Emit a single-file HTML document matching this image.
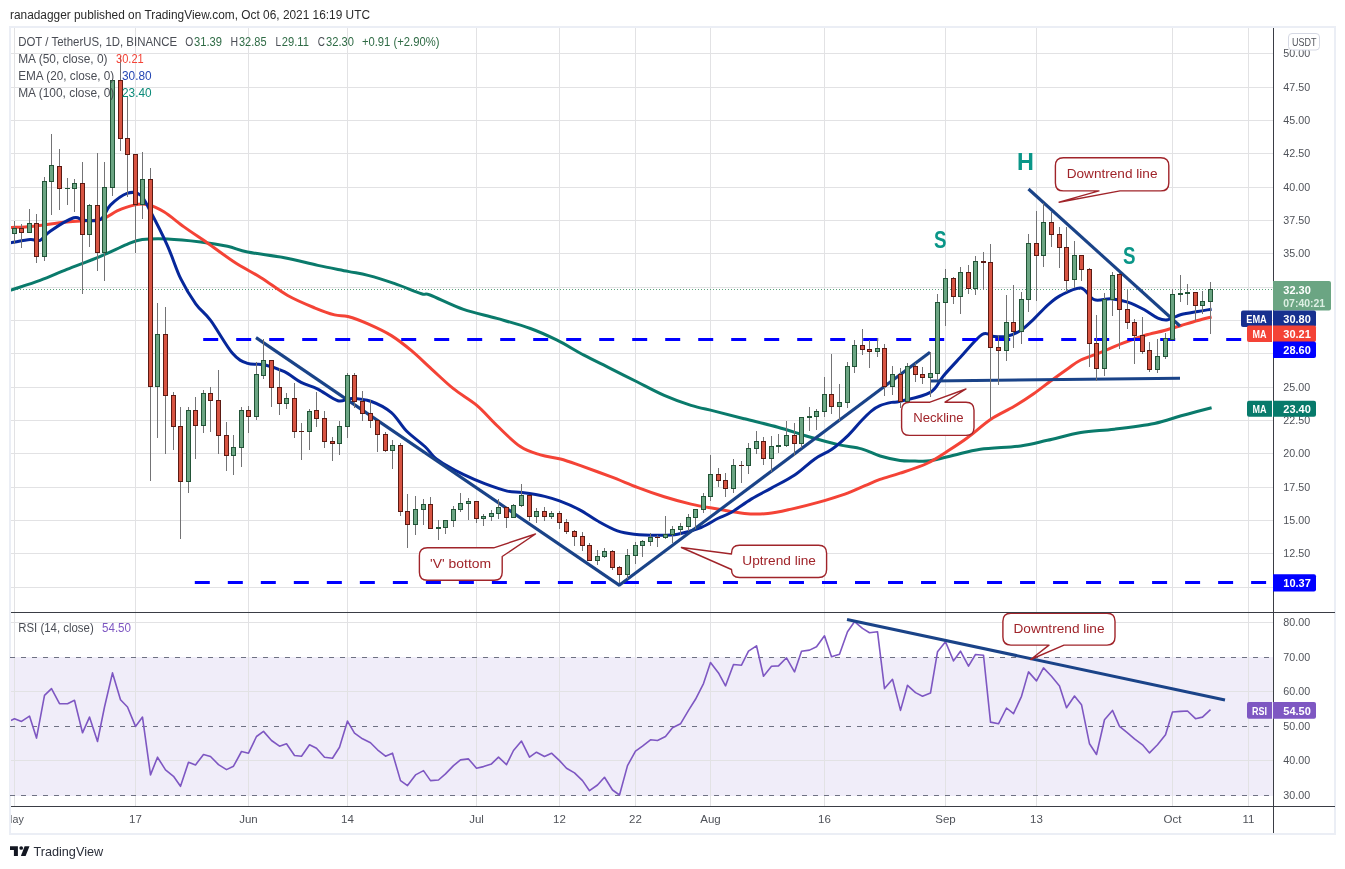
<!DOCTYPE html>
<html lang="en"><head><meta charset="utf-8"><title>DOT / TetherUS chart</title>
<style>html,body{margin:0;padding:0;background:#fff}svg{display:block}</style></head>
<body>
<svg width="1345" height="869" viewBox="0 0 1345 869" font-family='"Liberation Sans", Arial, sans-serif'>
<rect x="0" y="0" width="1345" height="869" fill="#ffffff"/>
<text x="10" y="19" font-size="12" fill="#2a2a2a" textLength="360" lengthAdjust="spacingAndGlyphs">ranadagger published on TradingView.com, Oct 06, 2021 16:19 UTC</text>
<rect x="10" y="27" width="1325" height="807" fill="#ffffff" stroke="#ebeef5" stroke-width="2"/>
<g shape-rendering="crispEdges">
<rect x="10" y="657" width="1263" height="138.5" fill="#f0edf9"/>
<rect x="14" y="28" width="1" height="778" fill="#e2e2e4"/>
<rect x="135" y="28" width="1" height="778" fill="#e2e2e4"/>
<rect x="248" y="28" width="1" height="778" fill="#e2e2e4"/>
<rect x="347" y="28" width="1" height="778" fill="#e2e2e4"/>
<rect x="476" y="28" width="1" height="778" fill="#e2e2e4"/>
<rect x="559" y="28" width="1" height="778" fill="#e2e2e4"/>
<rect x="635" y="28" width="1" height="778" fill="#e2e2e4"/>
<rect x="710" y="28" width="1" height="778" fill="#e2e2e4"/>
<rect x="824" y="28" width="1" height="778" fill="#e2e2e4"/>
<rect x="945" y="28" width="1" height="778" fill="#e2e2e4"/>
<rect x="1036" y="28" width="1" height="778" fill="#e2e2e4"/>
<rect x="1172" y="28" width="1" height="778" fill="#e2e2e4"/>
<rect x="1248" y="28" width="1" height="778" fill="#e2e2e4"/>
<rect x="11" y="53" width="1262" height="1" fill="#e2e2e4"/>
<rect x="11" y="87" width="1262" height="1" fill="#e2e2e4"/>
<rect x="11" y="120" width="1262" height="1" fill="#e2e2e4"/>
<rect x="11" y="153" width="1262" height="1" fill="#e2e2e4"/>
<rect x="11" y="187" width="1262" height="1" fill="#e2e2e4"/>
<rect x="11" y="220" width="1262" height="1" fill="#e2e2e4"/>
<rect x="11" y="253" width="1262" height="1" fill="#e2e2e4"/>
<rect x="11" y="287" width="1262" height="1" fill="#e2e2e4"/>
<rect x="11" y="320" width="1262" height="1" fill="#e2e2e4"/>
<rect x="11" y="353" width="1262" height="1" fill="#e2e2e4"/>
<rect x="11" y="387" width="1262" height="1" fill="#e2e2e4"/>
<rect x="11" y="420" width="1262" height="1" fill="#e2e2e4"/>
<rect x="11" y="453" width="1262" height="1" fill="#e2e2e4"/>
<rect x="11" y="487" width="1262" height="1" fill="#e2e2e4"/>
<rect x="11" y="520" width="1262" height="1" fill="#e2e2e4"/>
<rect x="11" y="553" width="1262" height="1" fill="#e2e2e4"/>
<rect x="11" y="587" width="1262" height="1" fill="#e2e2e4"/>
<rect x="11" y="622" width="1262" height="1" fill="#e2e2e4"/>
<rect x="11" y="691" width="1262" height="1" fill="#e2e2e4"/>
<rect x="11" y="760" width="1262" height="1" fill="#e2e2e4"/>
</g>
<line x1="10" y1="657.5" x2="1273" y2="657.5" stroke="#6e7183" stroke-width="1" stroke-dasharray="5 6" shape-rendering="crispEdges"/>
<line x1="10" y1="726.5" x2="1273" y2="726.5" stroke="#6e7183" stroke-width="1" stroke-dasharray="5 6" shape-rendering="crispEdges"/>
<line x1="10" y1="795.5" x2="1273" y2="795.5" stroke="#6e7183" stroke-width="1" stroke-dasharray="5 6" shape-rendering="crispEdges"/>
<line x1="11" y1="289.5" x2="1273" y2="289.5" stroke="#5da27c" stroke-width="1" stroke-dasharray="1 2" shape-rendering="crispEdges"/>
<clipPath id="cp"><rect x="11" y="28" width="1262" height="584"/></clipPath>
<g clip-path="url(#cp)">
<path d="M10.0,290.3 C10.3,290.2 6.7,291.5 11.7,289.8 C16.7,288.1 30.9,283.8 40.1,280.4 C49.3,277.0 56.9,273.4 66.9,269.4 C77.0,265.4 90.4,260.5 100.4,256.3 C110.4,252.1 120.1,247.1 127.1,244.3 C134.1,241.5 135.5,240.5 142.2,239.6 C148.9,238.7 157.6,238.5 167.3,238.9 C177.1,239.3 190.7,240.7 200.7,241.9 C210.7,243.1 219.7,244.6 227.5,246.3 C235.3,248.0 238.1,250.1 247.6,252.0 C257.1,253.9 272.7,255.5 284.4,257.7 C296.1,259.9 307.2,263.1 317.8,265.4 C328.4,267.7 339.5,269.7 347.9,271.4 C356.3,273.1 360.2,273.3 368.0,275.4 C375.8,277.4 385.9,280.6 394.8,283.7 C403.7,286.8 415.6,291.9 421.5,293.8 C427.4,295.7 423.0,292.4 430.0,295.0 C437.0,297.6 452.4,305.5 463.5,309.4 C474.6,313.3 485.8,315.2 496.9,318.4 C508.0,321.6 520.4,324.9 530.4,328.5 C540.4,332.1 548.2,335.8 557.1,340.2 C566.0,344.6 575.0,350.5 583.9,355.2 C592.8,359.9 601.8,364.1 610.7,368.6 C619.6,373.1 628.5,377.5 637.4,382.0 C646.3,386.5 655.3,391.5 664.2,395.4 C673.1,399.3 682.6,402.8 691.0,405.4 C699.4,408.0 705.5,408.9 714.4,411.1 C723.3,413.3 733.9,416.1 744.5,418.8 C755.1,421.5 767.3,424.2 777.9,427.2 C788.5,430.1 798.0,433.6 808.0,436.5 C818.0,439.4 829.3,442.5 838.2,444.6 C847.1,446.7 854.6,447.0 861.6,448.9 C868.6,450.8 873.7,454.1 880.1,456.0 C886.5,457.9 894.3,459.7 900.1,460.5 C905.9,461.3 910.0,460.9 915.0,461.0 C920.0,461.1 923.5,461.8 930.0,460.8 C936.5,459.9 945.3,457.2 953.7,455.3 C962.1,453.4 969.2,450.9 980.4,449.3 C991.5,447.7 1009.4,447.4 1020.6,445.9 C1031.8,444.4 1037.4,442.5 1047.4,440.3 C1057.4,438.1 1069.7,434.5 1080.8,432.6 C1091.9,430.8 1102.0,430.7 1114.3,429.2 C1126.6,427.7 1143.2,425.7 1154.4,423.5 C1165.6,421.3 1171.7,418.4 1181.2,415.8 C1190.7,413.2 1206.5,409.1 1211.6,407.8" fill="none" stroke="#0a7a6b" stroke-width="3" stroke-linejoin="round" stroke-linecap="butt" />
<path d="M10.0,227.6 C10.3,227.6 7.8,227.7 11.7,227.5 C15.6,227.3 24.3,227.1 33.5,226.2 C42.7,225.3 55.8,223.0 66.9,221.9 C78.1,220.8 92.0,221.3 100.4,219.5 C108.8,217.7 111.5,213.2 117.1,210.8 C122.7,208.4 128.8,206.2 133.8,205.1 C138.8,204.0 142.2,203.4 147.2,204.5 C152.2,205.6 157.8,208.1 163.9,211.8 C170.0,215.5 176.8,221.7 184.0,226.9 C191.2,232.1 199.0,237.1 207.4,242.9 C215.8,248.8 225.3,256.2 234.2,262.0 C243.1,267.8 252.1,272.1 261.0,277.7 C269.9,283.3 278.8,290.5 287.7,295.5 C296.6,300.5 306.7,304.6 314.5,307.8 C322.3,311.0 329.0,313.4 334.6,314.9 C340.2,316.3 342.3,315.0 347.9,316.5 C353.5,318.0 360.8,320.7 368.0,323.9 C375.2,327.1 384.1,331.1 391.4,335.6 C398.6,340.1 404.8,345.1 411.5,350.7 C418.2,356.3 424.6,362.8 431.6,369.1 C438.6,375.4 445.9,382.6 453.4,388.7 C460.9,394.8 469.6,399.3 476.8,405.4 C484.1,411.5 489.6,418.6 496.9,425.5 C504.1,432.4 513.0,441.7 520.3,446.6 C527.5,451.5 533.7,452.8 540.4,454.9 C547.1,457.0 553.8,457.2 560.5,459.0 C567.2,460.8 572.2,462.7 580.6,465.6 C589.0,468.6 601.2,473.1 610.7,476.7 C620.2,480.3 628.5,484.0 637.4,487.4 C646.3,490.8 655.3,494.0 664.2,496.8 C673.1,499.6 682.1,502.1 691.0,504.1 C699.9,506.2 708.8,507.5 717.7,509.1 C726.6,510.7 736.1,512.8 744.5,513.5 C752.9,514.2 760.1,514.2 767.9,513.5 C775.7,512.8 782.9,511.0 791.3,509.1 C799.7,507.2 809.2,504.9 818.1,502.4 C827.0,499.9 837.1,496.9 844.9,494.1 C852.7,491.3 859.0,488.1 864.9,485.7 C870.8,483.2 874.1,481.5 880.0,479.4 C885.9,477.3 892.3,475.8 900.1,473.2 C907.9,470.6 919.1,467.1 926.9,463.5 C934.7,459.9 940.3,455.8 947.0,451.5 C953.7,447.2 959.9,443.3 967.1,438.0 C974.4,432.7 982.7,424.8 990.5,419.5 C998.3,414.2 1006.6,410.8 1013.9,406.5 C1021.1,402.2 1027.9,397.8 1034.0,393.5 C1040.1,389.2 1045.1,385.1 1050.7,381.0 C1056.3,376.9 1062.4,372.5 1067.4,369.0 C1072.4,365.5 1075.2,362.8 1080.8,360.0 C1086.4,357.2 1094.2,355.0 1100.9,352.3 C1107.6,349.6 1113.7,346.7 1120.9,343.9 C1128.2,341.1 1137.2,337.7 1144.4,335.5 C1151.7,333.3 1158.3,332.2 1164.4,330.5 C1170.5,328.8 1175.6,327.2 1181.2,325.5 C1186.8,323.8 1192.8,321.9 1197.9,320.5 C1203.0,319.1 1209.3,317.6 1211.6,317.0" fill="none" stroke="#f44336" stroke-width="3" stroke-linejoin="round" stroke-linecap="butt" />
<path d="M10.0,242.8 C10.3,242.8 8.3,243.1 11.7,242.6 C15.0,242.1 25.4,240.0 30.1,239.6 C34.8,239.2 36.8,241.7 40.1,240.3 C43.5,238.9 44.6,234.9 50.2,231.2 C55.8,227.4 68.0,219.6 73.6,217.8 C79.2,216.0 79.1,219.9 83.6,220.2 C88.1,220.5 95.9,222.0 100.4,219.5 C104.9,217.0 106.0,209.4 110.4,205.1 C114.9,200.8 122.1,195.1 127.1,193.4 C132.1,191.7 136.6,192.0 140.5,195.1 C144.4,198.2 146.1,203.4 150.6,211.8 C155.1,220.2 162.3,234.2 167.3,245.3 C172.3,256.4 176.0,268.9 180.7,278.7 C185.4,288.4 190.7,296.8 195.7,303.8 C200.7,310.8 204.7,312.4 210.8,320.6 C216.9,328.9 226.4,346.2 232.5,353.3 C238.6,360.4 242.3,361.5 247.6,363.4 C252.9,365.3 258.2,363.3 264.3,364.7 C270.4,366.1 278.3,368.8 284.4,371.7 C290.5,374.6 295.5,379.5 301.1,382.4 C306.7,385.3 311.7,386.0 317.8,389.1 C323.9,392.2 332.3,399.2 337.9,400.8 C343.5,402.4 345.7,398.4 351.3,398.5 C356.9,398.6 364.7,399.1 371.4,401.5 C378.1,403.9 385.5,407.7 391.4,412.6 C397.2,417.5 400.9,425.4 406.5,431.0 C412.1,436.6 420.3,442.2 424.9,446.5 C429.5,450.8 430.7,453.9 434.2,457.0 C437.7,460.1 440.9,462.1 445.8,465.0 C450.7,467.9 457.3,471.6 463.8,474.7 C470.3,477.8 477.5,481.0 484.7,483.7 C491.9,486.4 501.0,489.6 507.2,491.1 C513.4,492.6 515.9,491.7 522.1,492.6 C528.3,493.5 538.4,495.0 544.6,496.4 C550.8,497.8 553.6,498.7 559.5,500.9 C565.4,503.1 573.4,506.5 579.7,509.8 C586.0,513.1 591.0,517.3 597.3,520.8 C603.6,524.3 611.3,528.7 617.4,530.9 C623.5,533.1 627.4,533.5 634.1,534.2 C640.8,534.9 650.2,535.2 657.5,535.2 C664.8,535.2 670.4,535.5 677.6,534.2 C684.9,532.9 694.3,530.1 701.0,527.5 C707.7,524.9 712.7,521.0 717.7,518.5 C722.7,516.0 725.5,515.7 731.1,512.5 C736.7,509.3 744.5,503.2 751.2,499.1 C757.9,495.0 764.0,492.1 771.3,488.1 C778.5,484.1 787.5,479.9 794.7,475.0 C802.0,470.1 808.7,463.1 814.8,458.9 C820.9,454.6 825.9,453.4 831.5,449.5 C837.1,445.6 843.2,440.1 848.2,435.3 C853.2,430.5 857.7,424.6 861.6,420.5 C865.5,416.4 868.5,413.3 871.6,410.8 C874.7,408.3 876.7,407.0 880.0,405.6 C883.3,404.2 888.1,403.1 891.5,402.4 C894.9,401.7 893.6,403.1 900.1,401.4 C906.6,399.7 923.0,396.7 930.3,392.4 C937.5,388.1 938.6,381.5 943.6,375.7 C948.6,369.9 954.0,364.2 960.4,357.3 C966.8,350.4 976.5,338.0 982.1,334.5 C987.7,331.0 989.6,336.2 993.8,336.5 C998.0,336.8 1002.7,337.2 1007.2,336.2 C1011.7,335.2 1016.1,333.4 1020.6,330.5 C1025.1,327.6 1029.5,323.0 1034.0,318.8 C1038.5,314.6 1043.0,309.3 1047.4,305.4 C1051.9,301.5 1055.1,298.3 1060.7,295.4 C1066.3,292.5 1075.2,287.3 1080.8,288.0 C1086.4,288.7 1089.2,297.9 1094.2,299.7 C1099.2,301.5 1105.3,298.3 1110.9,298.7 C1116.5,299.1 1122.1,300.2 1127.7,302.1 C1133.3,304.0 1139.4,307.1 1144.4,309.8 C1149.4,312.5 1153.9,316.4 1157.8,318.1 C1161.7,319.8 1163.9,320.4 1167.8,319.8 C1171.7,319.2 1176.2,315.9 1181.2,314.5 C1186.2,313.1 1192.8,312.3 1197.9,311.4 C1203.0,310.5 1209.3,309.6 1211.6,309.2" fill="none" stroke="#06279a" stroke-width="3" stroke-linejoin="round" stroke-linecap="butt" />
<line x1="203.2" y1="339.5" x2="1241.2" y2="339.5" stroke="#0000ff" stroke-width="3" stroke-dasharray="15 18"/>
<line x1="194.8" y1="582.5" x2="1273" y2="582.5" stroke="#0000ff" stroke-width="3" stroke-dasharray="15 18.01"/>
<line x1="256" y1="337.6" x2="619.9" y2="585.6" stroke="#1a4388" stroke-width="3.1"/>
<line x1="618.9" y1="585.6" x2="930" y2="352.2" stroke="#1a4388" stroke-width="3.1"/>
<line x1="931" y1="381.1" x2="1180" y2="378.2" stroke="#1a4388" stroke-width="3"/>
<line x1="1028.5" y1="189" x2="1180" y2="326" stroke="#1a4388" stroke-width="3.1"/>
</g>
<g shape-rendering="crispEdges">
<rect x="14" y="221" width="1" height="23" fill="#737375"/>
<rect x="12" y="228" width="5" height="6" fill="#225437"/>
<rect x="13" y="229" width="3" height="4" fill="#6ba583"/>
<rect x="21" y="224" width="1" height="24" fill="#737375"/>
<rect x="19" y="228" width="5" height="5" fill="#5b1a13"/>
<rect x="20" y="229" width="3" height="3" fill="#d75442"/>
<rect x="29" y="209" width="1" height="24" fill="#737375"/>
<rect x="27" y="223" width="5" height="10" fill="#225437"/>
<rect x="28" y="224" width="3" height="8" fill="#6ba583"/>
<rect x="36" y="214" width="1" height="49" fill="#737375"/>
<rect x="34" y="223" width="5" height="34" fill="#5b1a13"/>
<rect x="35" y="224" width="3" height="32" fill="#d75442"/>
<rect x="44" y="177" width="1" height="84" fill="#737375"/>
<rect x="42" y="181" width="5" height="76" fill="#225437"/>
<rect x="43" y="182" width="3" height="74" fill="#6ba583"/>
<rect x="51" y="134" width="1" height="81" fill="#737375"/>
<rect x="49" y="165" width="5" height="17" fill="#225437"/>
<rect x="50" y="166" width="3" height="15" fill="#6ba583"/>
<rect x="59" y="149" width="1" height="61" fill="#737375"/>
<rect x="57" y="166" width="5" height="23" fill="#5b1a13"/>
<rect x="58" y="167" width="3" height="21" fill="#d75442"/>
<rect x="67" y="178" width="1" height="27" fill="#737375"/>
<rect x="65" y="188" width="5" height="1" fill="#225437"/>
<rect x="74" y="179" width="1" height="33" fill="#737375"/>
<rect x="72" y="183" width="5" height="6" fill="#225437"/>
<rect x="73" y="184" width="3" height="4" fill="#6ba583"/>
<rect x="82" y="162" width="1" height="132" fill="#737375"/>
<rect x="80" y="183" width="5" height="52" fill="#5b1a13"/>
<rect x="81" y="184" width="3" height="50" fill="#d75442"/>
<rect x="89" y="204" width="1" height="43" fill="#737375"/>
<rect x="87" y="205" width="5" height="30" fill="#225437"/>
<rect x="88" y="206" width="3" height="28" fill="#6ba583"/>
<rect x="97" y="153" width="1" height="118" fill="#737375"/>
<rect x="95" y="205" width="5" height="48" fill="#5b1a13"/>
<rect x="96" y="206" width="3" height="46" fill="#d75442"/>
<rect x="104" y="162" width="1" height="119" fill="#737375"/>
<rect x="102" y="187" width="5" height="66" fill="#225437"/>
<rect x="103" y="188" width="3" height="64" fill="#6ba583"/>
<rect x="112" y="80" width="1" height="116" fill="#737375"/>
<rect x="110" y="80" width="5" height="108" fill="#225437"/>
<rect x="111" y="81" width="3" height="106" fill="#6ba583"/>
<rect x="120" y="56" width="1" height="95" fill="#737375"/>
<rect x="118" y="80" width="5" height="59" fill="#5b1a13"/>
<rect x="119" y="81" width="3" height="57" fill="#d75442"/>
<rect x="127" y="96" width="1" height="101" fill="#737375"/>
<rect x="125" y="138" width="5" height="17" fill="#5b1a13"/>
<rect x="126" y="139" width="3" height="15" fill="#d75442"/>
<rect x="135" y="154" width="1" height="99" fill="#737375"/>
<rect x="133" y="154" width="5" height="51" fill="#5b1a13"/>
<rect x="134" y="155" width="3" height="49" fill="#d75442"/>
<rect x="142" y="152" width="1" height="67" fill="#737375"/>
<rect x="140" y="179" width="5" height="26" fill="#225437"/>
<rect x="141" y="180" width="3" height="24" fill="#6ba583"/>
<rect x="150" y="168" width="1" height="313" fill="#737375"/>
<rect x="148" y="179" width="5" height="208" fill="#5b1a13"/>
<rect x="149" y="180" width="3" height="206" fill="#d75442"/>
<rect x="157" y="303" width="1" height="135" fill="#737375"/>
<rect x="155" y="334" width="5" height="53" fill="#225437"/>
<rect x="156" y="335" width="3" height="51" fill="#6ba583"/>
<rect x="165" y="307" width="1" height="147" fill="#737375"/>
<rect x="163" y="334" width="5" height="62" fill="#5b1a13"/>
<rect x="164" y="335" width="3" height="60" fill="#d75442"/>
<rect x="173" y="392" width="1" height="58" fill="#737375"/>
<rect x="171" y="395" width="5" height="32" fill="#5b1a13"/>
<rect x="172" y="396" width="3" height="30" fill="#d75442"/>
<rect x="180" y="407" width="1" height="132" fill="#737375"/>
<rect x="178" y="426" width="5" height="56" fill="#5b1a13"/>
<rect x="179" y="427" width="3" height="54" fill="#d75442"/>
<rect x="188" y="407" width="1" height="86" fill="#737375"/>
<rect x="186" y="410" width="5" height="72" fill="#225437"/>
<rect x="187" y="411" width="3" height="70" fill="#6ba583"/>
<rect x="195" y="397" width="1" height="62" fill="#737375"/>
<rect x="193" y="410" width="5" height="16" fill="#5b1a13"/>
<rect x="194" y="411" width="3" height="14" fill="#d75442"/>
<rect x="203" y="390" width="1" height="43" fill="#737375"/>
<rect x="201" y="393" width="5" height="33" fill="#225437"/>
<rect x="202" y="394" width="3" height="31" fill="#6ba583"/>
<rect x="210" y="387" width="1" height="45" fill="#737375"/>
<rect x="208" y="393" width="5" height="8" fill="#5b1a13"/>
<rect x="209" y="394" width="3" height="6" fill="#d75442"/>
<rect x="218" y="370" width="1" height="84" fill="#737375"/>
<rect x="216" y="400" width="5" height="36" fill="#5b1a13"/>
<rect x="217" y="401" width="3" height="34" fill="#d75442"/>
<rect x="226" y="422" width="1" height="49" fill="#737375"/>
<rect x="224" y="435" width="5" height="21" fill="#5b1a13"/>
<rect x="225" y="436" width="3" height="19" fill="#d75442"/>
<rect x="233" y="435" width="1" height="40" fill="#737375"/>
<rect x="231" y="447" width="5" height="9" fill="#225437"/>
<rect x="232" y="448" width="3" height="7" fill="#6ba583"/>
<rect x="241" y="407" width="1" height="60" fill="#737375"/>
<rect x="239" y="410" width="5" height="38" fill="#225437"/>
<rect x="240" y="411" width="3" height="36" fill="#6ba583"/>
<rect x="248" y="406" width="1" height="27" fill="#737375"/>
<rect x="246" y="410" width="5" height="7" fill="#5b1a13"/>
<rect x="247" y="411" width="3" height="5" fill="#d75442"/>
<rect x="256" y="362" width="1" height="58" fill="#737375"/>
<rect x="254" y="374" width="5" height="43" fill="#225437"/>
<rect x="255" y="375" width="3" height="41" fill="#6ba583"/>
<rect x="263" y="339" width="1" height="40" fill="#737375"/>
<rect x="261" y="360" width="5" height="16" fill="#225437"/>
<rect x="262" y="361" width="3" height="14" fill="#6ba583"/>
<rect x="271" y="360" width="1" height="47" fill="#737375"/>
<rect x="269" y="360" width="5" height="28" fill="#5b1a13"/>
<rect x="270" y="361" width="3" height="26" fill="#d75442"/>
<rect x="279" y="368" width="1" height="47" fill="#737375"/>
<rect x="277" y="387" width="5" height="17" fill="#5b1a13"/>
<rect x="278" y="388" width="3" height="15" fill="#d75442"/>
<rect x="286" y="393" width="1" height="16" fill="#737375"/>
<rect x="284" y="398" width="5" height="6" fill="#225437"/>
<rect x="285" y="399" width="3" height="4" fill="#6ba583"/>
<rect x="294" y="383" width="1" height="55" fill="#737375"/>
<rect x="292" y="398" width="5" height="34" fill="#5b1a13"/>
<rect x="293" y="399" width="3" height="32" fill="#d75442"/>
<rect x="301" y="423" width="1" height="37" fill="#737375"/>
<rect x="299" y="431" width="5" height="1" fill="#5b1a13"/>
<rect x="309" y="409" width="1" height="41" fill="#737375"/>
<rect x="307" y="411" width="5" height="21" fill="#225437"/>
<rect x="308" y="412" width="3" height="19" fill="#6ba583"/>
<rect x="316" y="392" width="1" height="35" fill="#737375"/>
<rect x="314" y="410" width="5" height="9" fill="#5b1a13"/>
<rect x="315" y="411" width="3" height="7" fill="#d75442"/>
<rect x="324" y="411" width="1" height="37" fill="#737375"/>
<rect x="322" y="418" width="5" height="24" fill="#5b1a13"/>
<rect x="323" y="419" width="3" height="22" fill="#d75442"/>
<rect x="332" y="437" width="1" height="24" fill="#737375"/>
<rect x="330" y="441" width="5" height="3" fill="#5b1a13"/>
<rect x="331" y="442" width="3" height="1" fill="#d75442"/>
<rect x="339" y="421" width="1" height="34" fill="#737375"/>
<rect x="337" y="426" width="5" height="18" fill="#225437"/>
<rect x="338" y="427" width="3" height="16" fill="#6ba583"/>
<rect x="347" y="373" width="1" height="65" fill="#737375"/>
<rect x="345" y="375" width="5" height="52" fill="#225437"/>
<rect x="346" y="376" width="3" height="50" fill="#6ba583"/>
<rect x="354" y="373" width="1" height="35" fill="#737375"/>
<rect x="352" y="375" width="5" height="27" fill="#5b1a13"/>
<rect x="353" y="376" width="3" height="25" fill="#d75442"/>
<rect x="362" y="391" width="1" height="30" fill="#737375"/>
<rect x="360" y="401" width="5" height="13" fill="#5b1a13"/>
<rect x="361" y="402" width="3" height="11" fill="#d75442"/>
<rect x="370" y="400" width="1" height="28" fill="#737375"/>
<rect x="368" y="413" width="5" height="8" fill="#5b1a13"/>
<rect x="369" y="414" width="3" height="6" fill="#d75442"/>
<rect x="377" y="420" width="1" height="32" fill="#737375"/>
<rect x="375" y="420" width="5" height="15" fill="#5b1a13"/>
<rect x="376" y="421" width="3" height="13" fill="#d75442"/>
<rect x="385" y="432" width="1" height="20" fill="#737375"/>
<rect x="383" y="434" width="5" height="17" fill="#5b1a13"/>
<rect x="384" y="435" width="3" height="15" fill="#d75442"/>
<rect x="392" y="440" width="1" height="29" fill="#737375"/>
<rect x="390" y="445" width="5" height="6" fill="#225437"/>
<rect x="391" y="446" width="3" height="4" fill="#6ba583"/>
<rect x="400" y="443" width="1" height="73" fill="#737375"/>
<rect x="398" y="445" width="5" height="67" fill="#5b1a13"/>
<rect x="399" y="446" width="3" height="65" fill="#d75442"/>
<rect x="407" y="494" width="1" height="54" fill="#737375"/>
<rect x="405" y="511" width="5" height="14" fill="#5b1a13"/>
<rect x="406" y="512" width="3" height="12" fill="#d75442"/>
<rect x="415" y="496" width="1" height="39" fill="#737375"/>
<rect x="413" y="509" width="5" height="16" fill="#225437"/>
<rect x="414" y="510" width="3" height="14" fill="#6ba583"/>
<rect x="423" y="499" width="1" height="26" fill="#737375"/>
<rect x="421" y="504" width="5" height="6" fill="#225437"/>
<rect x="422" y="505" width="3" height="4" fill="#6ba583"/>
<rect x="430" y="497" width="1" height="32" fill="#737375"/>
<rect x="428" y="504" width="5" height="25" fill="#5b1a13"/>
<rect x="429" y="505" width="3" height="23" fill="#d75442"/>
<rect x="438" y="520" width="1" height="20" fill="#737375"/>
<rect x="436" y="527" width="5" height="2" fill="#225437"/>
<rect x="445" y="520" width="1" height="14" fill="#737375"/>
<rect x="443" y="520" width="5" height="8" fill="#225437"/>
<rect x="444" y="521" width="3" height="6" fill="#6ba583"/>
<rect x="453" y="506" width="1" height="21" fill="#737375"/>
<rect x="451" y="509" width="5" height="12" fill="#225437"/>
<rect x="452" y="510" width="3" height="10" fill="#6ba583"/>
<rect x="460" y="493" width="1" height="19" fill="#737375"/>
<rect x="458" y="503" width="5" height="7" fill="#225437"/>
<rect x="459" y="504" width="3" height="5" fill="#6ba583"/>
<rect x="468" y="498" width="1" height="22" fill="#737375"/>
<rect x="466" y="501" width="5" height="3" fill="#225437"/>
<rect x="467" y="502" width="3" height="1" fill="#6ba583"/>
<rect x="476" y="501" width="1" height="22" fill="#737375"/>
<rect x="474" y="501" width="5" height="18" fill="#5b1a13"/>
<rect x="475" y="502" width="3" height="16" fill="#d75442"/>
<rect x="483" y="514" width="1" height="12" fill="#737375"/>
<rect x="481" y="516" width="5" height="3" fill="#225437"/>
<rect x="482" y="517" width="3" height="1" fill="#6ba583"/>
<rect x="491" y="510" width="1" height="11" fill="#737375"/>
<rect x="489" y="513" width="5" height="4" fill="#225437"/>
<rect x="490" y="514" width="3" height="2" fill="#6ba583"/>
<rect x="498" y="499" width="1" height="20" fill="#737375"/>
<rect x="496" y="507" width="5" height="7" fill="#225437"/>
<rect x="497" y="508" width="3" height="5" fill="#6ba583"/>
<rect x="506" y="507" width="1" height="21" fill="#737375"/>
<rect x="504" y="507" width="5" height="11" fill="#5b1a13"/>
<rect x="505" y="508" width="3" height="9" fill="#d75442"/>
<rect x="513" y="504" width="1" height="14" fill="#737375"/>
<rect x="511" y="505" width="5" height="13" fill="#225437"/>
<rect x="512" y="506" width="3" height="11" fill="#6ba583"/>
<rect x="521" y="484" width="1" height="23" fill="#737375"/>
<rect x="519" y="495" width="5" height="11" fill="#225437"/>
<rect x="520" y="496" width="3" height="9" fill="#6ba583"/>
<rect x="529" y="495" width="1" height="26" fill="#737375"/>
<rect x="527" y="495" width="5" height="22" fill="#5b1a13"/>
<rect x="528" y="496" width="3" height="20" fill="#d75442"/>
<rect x="536" y="508" width="1" height="15" fill="#737375"/>
<rect x="534" y="511" width="5" height="6" fill="#225437"/>
<rect x="535" y="512" width="3" height="4" fill="#6ba583"/>
<rect x="544" y="507" width="1" height="14" fill="#737375"/>
<rect x="542" y="511" width="5" height="6" fill="#5b1a13"/>
<rect x="543" y="512" width="3" height="4" fill="#d75442"/>
<rect x="551" y="511" width="1" height="8" fill="#737375"/>
<rect x="549" y="513" width="5" height="4" fill="#225437"/>
<rect x="550" y="514" width="3" height="2" fill="#6ba583"/>
<rect x="559" y="511" width="1" height="18" fill="#737375"/>
<rect x="557" y="513" width="5" height="10" fill="#5b1a13"/>
<rect x="558" y="514" width="3" height="8" fill="#d75442"/>
<rect x="566" y="519" width="1" height="15" fill="#737375"/>
<rect x="564" y="522" width="5" height="10" fill="#5b1a13"/>
<rect x="565" y="523" width="3" height="8" fill="#d75442"/>
<rect x="574" y="530" width="1" height="16" fill="#737375"/>
<rect x="572" y="531" width="5" height="6" fill="#5b1a13"/>
<rect x="573" y="532" width="3" height="4" fill="#d75442"/>
<rect x="582" y="532" width="1" height="19" fill="#737375"/>
<rect x="580" y="536" width="5" height="10" fill="#5b1a13"/>
<rect x="581" y="537" width="3" height="8" fill="#d75442"/>
<rect x="589" y="543" width="1" height="18" fill="#737375"/>
<rect x="587" y="545" width="5" height="16" fill="#5b1a13"/>
<rect x="588" y="546" width="3" height="14" fill="#d75442"/>
<rect x="597" y="550" width="1" height="15" fill="#737375"/>
<rect x="595" y="556" width="5" height="5" fill="#225437"/>
<rect x="596" y="557" width="3" height="3" fill="#6ba583"/>
<rect x="604" y="548" width="1" height="10" fill="#737375"/>
<rect x="602" y="551" width="5" height="6" fill="#225437"/>
<rect x="603" y="552" width="3" height="4" fill="#6ba583"/>
<rect x="612" y="550" width="1" height="20" fill="#737375"/>
<rect x="610" y="551" width="5" height="17" fill="#5b1a13"/>
<rect x="611" y="552" width="3" height="15" fill="#d75442"/>
<rect x="619" y="566" width="1" height="17" fill="#737375"/>
<rect x="617" y="567" width="5" height="8" fill="#5b1a13"/>
<rect x="618" y="568" width="3" height="6" fill="#d75442"/>
<rect x="627" y="549" width="1" height="30" fill="#737375"/>
<rect x="625" y="555" width="5" height="20" fill="#225437"/>
<rect x="626" y="556" width="3" height="18" fill="#6ba583"/>
<rect x="635" y="542" width="1" height="22" fill="#737375"/>
<rect x="633" y="545" width="5" height="11" fill="#225437"/>
<rect x="634" y="546" width="3" height="9" fill="#6ba583"/>
<rect x="642" y="540" width="1" height="17" fill="#737375"/>
<rect x="640" y="541" width="5" height="5" fill="#225437"/>
<rect x="641" y="542" width="3" height="3" fill="#6ba583"/>
<rect x="650" y="533" width="1" height="13" fill="#737375"/>
<rect x="648" y="537" width="5" height="5" fill="#225437"/>
<rect x="649" y="538" width="3" height="3" fill="#6ba583"/>
<rect x="657" y="535" width="1" height="12" fill="#737375"/>
<rect x="655" y="537" width="5" height="1" fill="#5b1a13"/>
<rect x="665" y="516" width="1" height="23" fill="#737375"/>
<rect x="663" y="534" width="5" height="4" fill="#225437"/>
<rect x="664" y="535" width="3" height="2" fill="#6ba583"/>
<rect x="672" y="526" width="1" height="17" fill="#737375"/>
<rect x="670" y="529" width="5" height="6" fill="#225437"/>
<rect x="671" y="530" width="3" height="4" fill="#6ba583"/>
<rect x="680" y="523" width="1" height="12" fill="#737375"/>
<rect x="678" y="526" width="5" height="4" fill="#225437"/>
<rect x="679" y="527" width="3" height="2" fill="#6ba583"/>
<rect x="688" y="514" width="1" height="17" fill="#737375"/>
<rect x="686" y="517" width="5" height="10" fill="#225437"/>
<rect x="687" y="518" width="3" height="8" fill="#6ba583"/>
<rect x="695" y="509" width="1" height="20" fill="#737375"/>
<rect x="693" y="509" width="5" height="9" fill="#225437"/>
<rect x="694" y="510" width="3" height="7" fill="#6ba583"/>
<rect x="703" y="493" width="1" height="20" fill="#737375"/>
<rect x="701" y="496" width="5" height="14" fill="#225437"/>
<rect x="702" y="497" width="3" height="12" fill="#6ba583"/>
<rect x="710" y="455" width="1" height="46" fill="#737375"/>
<rect x="708" y="474" width="5" height="23" fill="#225437"/>
<rect x="709" y="475" width="3" height="21" fill="#6ba583"/>
<rect x="718" y="468" width="1" height="19" fill="#737375"/>
<rect x="716" y="474" width="5" height="7" fill="#5b1a13"/>
<rect x="717" y="475" width="3" height="5" fill="#d75442"/>
<rect x="725" y="473" width="1" height="24" fill="#737375"/>
<rect x="723" y="480" width="5" height="9" fill="#5b1a13"/>
<rect x="724" y="481" width="3" height="7" fill="#d75442"/>
<rect x="733" y="459" width="1" height="34" fill="#737375"/>
<rect x="731" y="465" width="5" height="24" fill="#225437"/>
<rect x="732" y="466" width="3" height="22" fill="#6ba583"/>
<rect x="741" y="461" width="1" height="22" fill="#737375"/>
<rect x="739" y="465" width="5" height="1" fill="#5b1a13"/>
<rect x="748" y="443" width="1" height="31" fill="#737375"/>
<rect x="746" y="448" width="5" height="18" fill="#225437"/>
<rect x="747" y="449" width="3" height="16" fill="#6ba583"/>
<rect x="756" y="431" width="1" height="23" fill="#737375"/>
<rect x="754" y="441" width="5" height="8" fill="#225437"/>
<rect x="755" y="442" width="3" height="6" fill="#6ba583"/>
<rect x="763" y="437" width="1" height="28" fill="#737375"/>
<rect x="761" y="441" width="5" height="18" fill="#5b1a13"/>
<rect x="762" y="442" width="3" height="16" fill="#d75442"/>
<rect x="771" y="436" width="1" height="36" fill="#737375"/>
<rect x="769" y="446" width="5" height="13" fill="#225437"/>
<rect x="770" y="447" width="3" height="11" fill="#6ba583"/>
<rect x="778" y="434" width="1" height="19" fill="#737375"/>
<rect x="776" y="445" width="5" height="2" fill="#225437"/>
<rect x="786" y="421" width="1" height="26" fill="#737375"/>
<rect x="784" y="435" width="5" height="11" fill="#225437"/>
<rect x="785" y="436" width="3" height="9" fill="#6ba583"/>
<rect x="794" y="423" width="1" height="33" fill="#737375"/>
<rect x="792" y="435" width="5" height="9" fill="#5b1a13"/>
<rect x="793" y="436" width="3" height="7" fill="#d75442"/>
<rect x="801" y="417" width="1" height="31" fill="#737375"/>
<rect x="799" y="417" width="5" height="27" fill="#225437"/>
<rect x="800" y="418" width="3" height="25" fill="#6ba583"/>
<rect x="809" y="407" width="1" height="24" fill="#737375"/>
<rect x="807" y="416" width="5" height="2" fill="#225437"/>
<rect x="816" y="409" width="1" height="21" fill="#737375"/>
<rect x="814" y="411" width="5" height="6" fill="#225437"/>
<rect x="815" y="412" width="3" height="4" fill="#6ba583"/>
<rect x="824" y="377" width="1" height="40" fill="#737375"/>
<rect x="822" y="394" width="5" height="18" fill="#225437"/>
<rect x="823" y="395" width="3" height="16" fill="#6ba583"/>
<rect x="831" y="354" width="1" height="60" fill="#737375"/>
<rect x="829" y="394" width="5" height="13" fill="#5b1a13"/>
<rect x="830" y="395" width="3" height="11" fill="#d75442"/>
<rect x="839" y="384" width="1" height="37" fill="#737375"/>
<rect x="837" y="402" width="5" height="5" fill="#225437"/>
<rect x="838" y="403" width="3" height="3" fill="#6ba583"/>
<rect x="847" y="362" width="1" height="46" fill="#737375"/>
<rect x="845" y="366" width="5" height="37" fill="#225437"/>
<rect x="846" y="367" width="3" height="35" fill="#6ba583"/>
<rect x="854" y="340" width="1" height="33" fill="#737375"/>
<rect x="852" y="345" width="5" height="22" fill="#225437"/>
<rect x="853" y="346" width="3" height="20" fill="#6ba583"/>
<rect x="862" y="329" width="1" height="26" fill="#737375"/>
<rect x="860" y="345" width="5" height="5" fill="#5b1a13"/>
<rect x="861" y="346" width="3" height="3" fill="#d75442"/>
<rect x="869" y="340" width="1" height="28" fill="#737375"/>
<rect x="867" y="349" width="5" height="3" fill="#5b1a13"/>
<rect x="868" y="350" width="3" height="1" fill="#d75442"/>
<rect x="877" y="338" width="1" height="19" fill="#737375"/>
<rect x="875" y="348" width="5" height="4" fill="#225437"/>
<rect x="876" y="349" width="3" height="2" fill="#6ba583"/>
<rect x="884" y="344" width="1" height="52" fill="#737375"/>
<rect x="882" y="348" width="5" height="39" fill="#5b1a13"/>
<rect x="883" y="349" width="3" height="37" fill="#d75442"/>
<rect x="892" y="366" width="1" height="29" fill="#737375"/>
<rect x="890" y="374" width="5" height="13" fill="#225437"/>
<rect x="891" y="375" width="3" height="11" fill="#6ba583"/>
<rect x="900" y="368" width="1" height="40" fill="#737375"/>
<rect x="898" y="374" width="5" height="28" fill="#5b1a13"/>
<rect x="899" y="375" width="3" height="26" fill="#d75442"/>
<rect x="907" y="363" width="1" height="45" fill="#737375"/>
<rect x="905" y="366" width="5" height="36" fill="#225437"/>
<rect x="906" y="367" width="3" height="34" fill="#6ba583"/>
<rect x="915" y="363" width="1" height="19" fill="#737375"/>
<rect x="913" y="366" width="5" height="9" fill="#5b1a13"/>
<rect x="914" y="367" width="3" height="7" fill="#d75442"/>
<rect x="922" y="367" width="1" height="17" fill="#737375"/>
<rect x="920" y="374" width="5" height="4" fill="#5b1a13"/>
<rect x="921" y="375" width="3" height="2" fill="#d75442"/>
<rect x="930" y="352" width="1" height="45" fill="#737375"/>
<rect x="928" y="373" width="5" height="5" fill="#225437"/>
<rect x="929" y="374" width="3" height="3" fill="#6ba583"/>
<rect x="937" y="294" width="1" height="86" fill="#737375"/>
<rect x="935" y="302" width="5" height="72" fill="#225437"/>
<rect x="936" y="303" width="3" height="70" fill="#6ba583"/>
<rect x="945" y="269" width="1" height="57" fill="#737375"/>
<rect x="943" y="278" width="5" height="25" fill="#225437"/>
<rect x="944" y="279" width="3" height="23" fill="#6ba583"/>
<rect x="953" y="277" width="1" height="27" fill="#737375"/>
<rect x="951" y="278" width="5" height="19" fill="#5b1a13"/>
<rect x="952" y="279" width="3" height="17" fill="#d75442"/>
<rect x="960" y="267" width="1" height="47" fill="#737375"/>
<rect x="958" y="272" width="5" height="25" fill="#225437"/>
<rect x="959" y="273" width="3" height="23" fill="#6ba583"/>
<rect x="968" y="265" width="1" height="29" fill="#737375"/>
<rect x="966" y="272" width="5" height="17" fill="#5b1a13"/>
<rect x="967" y="273" width="3" height="15" fill="#d75442"/>
<rect x="975" y="256" width="1" height="39" fill="#737375"/>
<rect x="973" y="261" width="5" height="28" fill="#225437"/>
<rect x="974" y="262" width="3" height="26" fill="#6ba583"/>
<rect x="983" y="252" width="1" height="38" fill="#737375"/>
<rect x="981" y="261" width="5" height="2" fill="#5b1a13"/>
<rect x="990" y="244" width="1" height="175" fill="#737375"/>
<rect x="988" y="262" width="5" height="86" fill="#5b1a13"/>
<rect x="989" y="263" width="3" height="84" fill="#d75442"/>
<rect x="998" y="335" width="1" height="50" fill="#737375"/>
<rect x="996" y="347" width="5" height="4" fill="#5b1a13"/>
<rect x="997" y="348" width="3" height="2" fill="#d75442"/>
<rect x="1006" y="295" width="1" height="66" fill="#737375"/>
<rect x="1004" y="322" width="5" height="29" fill="#225437"/>
<rect x="1005" y="323" width="3" height="27" fill="#6ba583"/>
<rect x="1013" y="285" width="1" height="63" fill="#737375"/>
<rect x="1011" y="322" width="5" height="10" fill="#5b1a13"/>
<rect x="1012" y="323" width="3" height="8" fill="#d75442"/>
<rect x="1021" y="292" width="1" height="52" fill="#737375"/>
<rect x="1019" y="299" width="5" height="33" fill="#225437"/>
<rect x="1020" y="300" width="3" height="31" fill="#6ba583"/>
<rect x="1028" y="234" width="1" height="78" fill="#737375"/>
<rect x="1026" y="243" width="5" height="57" fill="#225437"/>
<rect x="1027" y="244" width="3" height="55" fill="#6ba583"/>
<rect x="1036" y="211" width="1" height="90" fill="#737375"/>
<rect x="1034" y="243" width="5" height="13" fill="#5b1a13"/>
<rect x="1035" y="244" width="3" height="11" fill="#d75442"/>
<rect x="1043" y="203" width="1" height="64" fill="#737375"/>
<rect x="1041" y="222" width="5" height="34" fill="#225437"/>
<rect x="1042" y="223" width="3" height="32" fill="#6ba583"/>
<rect x="1051" y="212" width="1" height="35" fill="#737375"/>
<rect x="1049" y="222" width="5" height="13" fill="#5b1a13"/>
<rect x="1050" y="223" width="3" height="11" fill="#d75442"/>
<rect x="1059" y="227" width="1" height="41" fill="#737375"/>
<rect x="1057" y="234" width="5" height="14" fill="#5b1a13"/>
<rect x="1058" y="235" width="3" height="12" fill="#d75442"/>
<rect x="1066" y="227" width="1" height="65" fill="#737375"/>
<rect x="1064" y="247" width="5" height="34" fill="#5b1a13"/>
<rect x="1065" y="248" width="3" height="32" fill="#d75442"/>
<rect x="1074" y="241" width="1" height="47" fill="#737375"/>
<rect x="1072" y="255" width="5" height="25" fill="#225437"/>
<rect x="1073" y="256" width="3" height="23" fill="#6ba583"/>
<rect x="1081" y="255" width="1" height="26" fill="#737375"/>
<rect x="1079" y="255" width="5" height="15" fill="#5b1a13"/>
<rect x="1080" y="256" width="3" height="13" fill="#d75442"/>
<rect x="1089" y="268" width="1" height="99" fill="#737375"/>
<rect x="1087" y="269" width="5" height="75" fill="#5b1a13"/>
<rect x="1088" y="270" width="3" height="73" fill="#d75442"/>
<rect x="1096" y="315" width="1" height="66" fill="#737375"/>
<rect x="1094" y="343" width="5" height="26" fill="#5b1a13"/>
<rect x="1095" y="344" width="3" height="24" fill="#d75442"/>
<rect x="1104" y="293" width="1" height="83" fill="#737375"/>
<rect x="1102" y="299" width="5" height="70" fill="#225437"/>
<rect x="1103" y="300" width="3" height="68" fill="#6ba583"/>
<rect x="1112" y="272" width="1" height="44" fill="#737375"/>
<rect x="1110" y="275" width="5" height="25" fill="#225437"/>
<rect x="1111" y="276" width="3" height="23" fill="#6ba583"/>
<rect x="1119" y="273" width="1" height="76" fill="#737375"/>
<rect x="1117" y="274" width="5" height="36" fill="#5b1a13"/>
<rect x="1118" y="275" width="3" height="34" fill="#d75442"/>
<rect x="1127" y="290" width="1" height="39" fill="#737375"/>
<rect x="1125" y="309" width="5" height="14" fill="#5b1a13"/>
<rect x="1126" y="310" width="3" height="12" fill="#d75442"/>
<rect x="1134" y="319" width="1" height="45" fill="#737375"/>
<rect x="1132" y="322" width="5" height="14" fill="#5b1a13"/>
<rect x="1133" y="323" width="3" height="12" fill="#d75442"/>
<rect x="1142" y="317" width="1" height="37" fill="#737375"/>
<rect x="1140" y="335" width="5" height="17" fill="#5b1a13"/>
<rect x="1141" y="336" width="3" height="15" fill="#d75442"/>
<rect x="1149" y="342" width="1" height="30" fill="#737375"/>
<rect x="1147" y="350" width="5" height="20" fill="#5b1a13"/>
<rect x="1148" y="351" width="3" height="18" fill="#d75442"/>
<rect x="1157" y="339" width="1" height="34" fill="#737375"/>
<rect x="1155" y="356" width="5" height="14" fill="#225437"/>
<rect x="1156" y="357" width="3" height="12" fill="#6ba583"/>
<rect x="1165" y="333" width="1" height="26" fill="#737375"/>
<rect x="1163" y="338" width="5" height="19" fill="#225437"/>
<rect x="1164" y="339" width="3" height="17" fill="#6ba583"/>
<rect x="1172" y="289" width="1" height="51" fill="#737375"/>
<rect x="1170" y="294" width="5" height="46" fill="#225437"/>
<rect x="1171" y="295" width="3" height="44" fill="#6ba583"/>
<rect x="1180" y="275" width="1" height="27" fill="#737375"/>
<rect x="1178" y="293" width="5" height="2" fill="#225437"/>
<rect x="1187" y="284" width="1" height="21" fill="#737375"/>
<rect x="1185" y="292" width="5" height="2" fill="#225437"/>
<rect x="1195" y="292" width="1" height="29" fill="#737375"/>
<rect x="1193" y="292" width="5" height="14" fill="#5b1a13"/>
<rect x="1194" y="293" width="3" height="12" fill="#d75442"/>
<rect x="1202" y="291" width="1" height="23" fill="#737375"/>
<rect x="1200" y="301" width="5" height="5" fill="#225437"/>
<rect x="1201" y="302" width="3" height="3" fill="#6ba583"/>
<rect x="1210" y="282" width="1" height="52" fill="#737375"/>
<rect x="1208" y="289" width="5" height="13" fill="#225437"/>
<rect x="1209" y="290" width="3" height="11" fill="#6ba583"/>
</g>
<clipPath id="cp2"><rect x="11" y="613" width="1262" height="193"/></clipPath>
<g clip-path="url(#cp2)">
<polyline points="10.5,720.7 14.5,718.7 21.5,721.4 29.5,716.1 36.5,738.1 44.5,695.3 51.5,688.6 59.5,703.7 67.5,703.7 74.5,700.3 82.5,732.8 89.5,717.1 97.5,741.5 104.5,707.0 112.5,672.9 120.5,699.7 127.5,707.0 135.5,726.4 142.5,717.1 150.5,774.9 157.5,757.2 165.5,769.9 173.5,776.3 180.5,786.3 188.5,762.2 195.5,764.9 203.5,754.5 210.5,756.5 218.5,764.6 226.5,769.6 233.5,766.2 241.5,751.5 248.5,753.2 256.5,736.5 263.5,731.4 271.5,740.5 279.5,746.2 286.5,743.8 294.5,755.5 301.5,756.2 309.5,744.8 316.5,748.2 324.5,757.2 332.5,758.2 339.5,747.2 347.5,721.1 354.5,733.1 362.5,738.8 370.5,742.8 377.5,749.8 385.5,756.2 392.5,753.2 400.5,780.6 407.5,785.6 415.5,774.9 423.5,770.6 430.5,780.6 438.5,780.0 445.5,773.9 453.5,765.6 460.5,759.9 468.5,758.9 476.5,768.2 483.5,766.6 491.5,763.9 498.5,757.2 506.5,764.6 513.5,750.5 521.5,741.1 529.5,757.2 536.5,752.2 544.5,756.5 551.5,753.2 559.5,760.6 566.5,768.2 574.5,772.9 582.5,780.6 589.5,790.7 597.5,785.0 604.5,777.3 612.5,790.0 619.5,795.0 627.5,765.6 635.5,751.2 642.5,746.2 650.5,739.8 657.5,740.5 665.5,736.5 672.5,727.8 680.5,723.8 688.5,710.4 695.5,699.3 703.5,683.6 710.5,662.5 718.5,672.9 725.5,685.9 733.5,664.5 741.5,665.2 748.5,651.2 756.5,645.8 763.5,676.2 771.5,666.2 778.5,665.9 786.5,657.8 794.5,671.9 801.5,651.2 809.5,650.1 816.5,646.8 824.5,635.8 831.5,656.8 839.5,654.2 847.5,631.7 854.5,621.7 862.5,628.4 869.5,632.8 877.5,631.7 884.5,688.6 892.5,679.3 900.5,710.4 907.5,685.3 915.5,692.6 922.5,696.3 930.5,693.0 937.5,651.8 945.5,641.8 953.5,660.9 960.5,651.2 968.5,666.2 975.5,654.5 983.5,655.2 990.5,722.1 998.5,723.8 1006.5,708.0 1013.5,713.7 1021.5,696.3 1028.5,671.9 1036.5,680.9 1043.5,667.9 1051.5,676.2 1059.5,685.9 1066.5,707.7 1074.5,696.0 1081.5,704.7 1089.5,743.8 1096.5,754.5 1104.5,719.7 1112.5,710.4 1119.5,726.4 1127.5,732.8 1134.5,738.8 1142.5,744.8 1149.5,752.9 1157.5,744.8 1165.5,734.8 1172.5,712.0 1180.5,711.4 1187.5,711.0 1195.5,718.7 1202.5,717.1 1210.5,709.7" fill="none" stroke="#7e57c2" stroke-width="1.6" stroke-linejoin="round" stroke-linecap="butt" />
<line x1="847" y1="619.5" x2="1225" y2="700" stroke="#1a4388" stroke-width="3.1"/>
</g>
<path d="M427.4,547.8 L493.7,547.8 L535.5,534 L502.2,556.5 L502.2,572.2 Q502.2,580.2 494.2,580.2 L427.4,580.2 Q419.4,580.2 419.4,572.2 L419.4,555.8 Q419.4,547.8 427.4,547.8 Z" fill="#ffffff" stroke="#a0242a" stroke-width="1.4" stroke-linejoin="round"/>
<text x="430.1" y="567.5" font-size="12.6" fill="#a0242a" textLength="61" lengthAdjust="spacingAndGlyphs">&#39;V&#39; bottom</text>
<path d="M739.5,545.3 L818.6,545.3 Q826.6,545.3 826.6,553.3 L826.6,569.5 Q826.6,577.5 818.6,577.5 L739.5,577.5 Q731.5,577.5 731.5,569.5 L731.5,569.5 L681.4,547.5 L731.5,554 L731.5,553.3 Q731.5,545.3 739.5,545.3 Z" fill="#ffffff" stroke="#a0242a" stroke-width="1.4" stroke-linejoin="round"/>
<text x="742.3" y="564.8" font-size="12.6" fill="#a0242a" textLength="73.6" lengthAdjust="spacingAndGlyphs">Uptrend line</text>
<path d="M909.6,402.2 L930,402.2 L966,389 L945,402.2 L966,402.2 Q974,402.2 974,410.2 L974,427.4 Q974,435.4 966,435.4 L909.6,435.4 Q901.6,435.4 901.6,427.4 L901.6,410.2 Q901.6,402.2 909.6,402.2 Z" fill="#ffffff" stroke="#a0242a" stroke-width="1.4" stroke-linejoin="round"/>
<text x="913.2" y="421.8" font-size="12.6" fill="#a0242a" textLength="50.4" lengthAdjust="spacingAndGlyphs">Neckline</text>
<path d="M1063.4,157.7 L1160.8,157.7 Q1168.8,157.7 1168.8,165.7 L1168.8,182.9 Q1168.8,190.9 1160.8,190.9 L1120,190.9 L1059.1,202.2 L1099,190.9 L1063.4,190.9 Q1055.4,190.9 1055.4,182.9 L1055.4,165.7 Q1055.4,157.7 1063.4,157.7 Z" fill="#ffffff" stroke="#a0242a" stroke-width="1.4" stroke-linejoin="round"/>
<text x="1066.7" y="177.7" font-size="12.6" fill="#a0242a" textLength="90.8" lengthAdjust="spacingAndGlyphs">Downtrend line</text>
<path d="M1010.9,613.3 L1107,613.3 Q1115,613.3 1115,621.3 L1115,637.1 Q1115,645.1 1107,645.1 L1064,645.1 L1030.7,659.5 L1049,645.1 L1010.9,645.1 Q1002.9,645.1 1002.9,637.1 L1002.9,621.3 Q1002.9,613.3 1010.9,613.3 Z" fill="#ffffff" stroke="#a0242a" stroke-width="1.4" stroke-linejoin="round"/>
<text x="1013.5" y="633.2" font-size="12.6" fill="#a0242a" textLength="91" lengthAdjust="spacingAndGlyphs">Downtrend line</text>
<text x="1017" y="169.6" font-size="23.4" font-weight="bold" fill="#0a9688">H</text>
<text x="934.1" y="247.8" font-size="23.4" font-weight="bold" fill="#0a9688" textLength="12.5" lengthAdjust="spacingAndGlyphs">S</text>
<text x="1123.1" y="263.9" font-size="23.4" font-weight="bold" fill="#0a9688" textLength="12.5" lengthAdjust="spacingAndGlyphs">S</text>
<g shape-rendering="crispEdges">
<rect x="1273" y="28" width="1" height="805" fill="#3a3d45"/>
<rect x="11" y="612" width="1324" height="1" fill="#3a3d45"/>
<rect x="11" y="806" width="1324" height="1" fill="#3a3d45"/>
</g>
<text x="1283.3" y="56.8" font-size="10.8" fill="#4f5259" textLength="26.8" lengthAdjust="spacingAndGlyphs">50.00</text>
<text x="1283.3" y="90.8" font-size="10.8" fill="#4f5259" textLength="26.8" lengthAdjust="spacingAndGlyphs">47.50</text>
<text x="1283.3" y="123.8" font-size="10.8" fill="#4f5259" textLength="26.8" lengthAdjust="spacingAndGlyphs">45.00</text>
<text x="1283.3" y="156.8" font-size="10.8" fill="#4f5259" textLength="26.8" lengthAdjust="spacingAndGlyphs">42.50</text>
<text x="1283.3" y="190.8" font-size="10.8" fill="#4f5259" textLength="26.8" lengthAdjust="spacingAndGlyphs">40.00</text>
<text x="1283.3" y="223.8" font-size="10.8" fill="#4f5259" textLength="26.8" lengthAdjust="spacingAndGlyphs">37.50</text>
<text x="1283.3" y="256.8" font-size="10.8" fill="#4f5259" textLength="26.8" lengthAdjust="spacingAndGlyphs">35.00</text>
<text x="1283.3" y="290.8" font-size="10.8" fill="#4f5259" textLength="26.8" lengthAdjust="spacingAndGlyphs">32.50</text>
<text x="1283.3" y="323.8" font-size="10.8" fill="#4f5259" textLength="26.8" lengthAdjust="spacingAndGlyphs">30.00</text>
<text x="1283.3" y="356.8" font-size="10.8" fill="#4f5259" textLength="26.8" lengthAdjust="spacingAndGlyphs">27.50</text>
<text x="1283.3" y="390.8" font-size="10.8" fill="#4f5259" textLength="26.8" lengthAdjust="spacingAndGlyphs">25.00</text>
<text x="1283.3" y="423.8" font-size="10.8" fill="#4f5259" textLength="26.8" lengthAdjust="spacingAndGlyphs">22.50</text>
<text x="1283.3" y="456.8" font-size="10.8" fill="#4f5259" textLength="26.8" lengthAdjust="spacingAndGlyphs">20.00</text>
<text x="1283.3" y="490.8" font-size="10.8" fill="#4f5259" textLength="26.8" lengthAdjust="spacingAndGlyphs">17.50</text>
<text x="1283.3" y="523.8" font-size="10.8" fill="#4f5259" textLength="26.8" lengthAdjust="spacingAndGlyphs">15.00</text>
<text x="1283.3" y="556.8" font-size="10.8" fill="#4f5259" textLength="26.8" lengthAdjust="spacingAndGlyphs">12.50</text>
<text x="1283.3" y="625.8" font-size="10.8" fill="#4f5259" textLength="26.8" lengthAdjust="spacingAndGlyphs">80.00</text>
<text x="1283.3" y="660.8" font-size="10.8" fill="#4f5259" textLength="26.8" lengthAdjust="spacingAndGlyphs">70.00</text>
<text x="1283.3" y="694.8" font-size="10.8" fill="#4f5259" textLength="26.8" lengthAdjust="spacingAndGlyphs">60.00</text>
<text x="1283.3" y="729.8" font-size="10.8" fill="#4f5259" textLength="26.8" lengthAdjust="spacingAndGlyphs">50.00</text>
<text x="1283.3" y="763.8" font-size="10.8" fill="#4f5259" textLength="26.8" lengthAdjust="spacingAndGlyphs">40.00</text>
<text x="1283.3" y="798.8" font-size="10.8" fill="#4f5259" textLength="26.8" lengthAdjust="spacingAndGlyphs">30.00</text>
<rect x="1288.5" y="33.5" width="31" height="16.5" rx="3.5" fill="#ffffff" stroke="#d6d9e4" stroke-width="1"/>
<text x="1292" y="46" font-size="10.5" fill="#4f5259" textLength="24.5" lengthAdjust="spacingAndGlyphs">USDT</text>
<path d="M1273,281.1 H1329 Q1331,281.1 1331,283.1 V308.6 Q1331,310.6 1329,310.6 H1273 Z" fill="#6ba583"/>
<text x="1283.3" y="293.8" font-size="11" font-weight="bold" fill="#ffffff" textLength="27.5" lengthAdjust="spacingAndGlyphs">32.30</text>
<text x="1283.3" y="307.2" font-size="11" font-weight="bold" fill="#dcefe3" textLength="41.8" lengthAdjust="spacingAndGlyphs">07:40:21</text>
<path d="M1273,310.4 H1314 Q1316,310.4 1316,312.4 V324.9 Q1316,326.9 1314,326.9 H1273 Z" fill="#17308f"/>
<text x="1283.3" y="323.04999999999995" font-size="11" font-weight="bold" fill="#ffffff" textLength="27.5" lengthAdjust="spacingAndGlyphs">30.80</text>
<path d="M1272,310.4 H1243 Q1241,310.4 1241,312.4 V324.9 Q1241,326.9 1243,326.9 H1272 Z" fill="#17308f"/>
<text x="1246.25" y="323.04999999999995" font-size="11" font-weight="bold" fill="#ffffff" textLength="20.5" lengthAdjust="spacingAndGlyphs">EMA</text>
<path d="M1273,325.4 H1314 Q1316,325.4 1316,327.4 V339.9 Q1316,341.9 1314,341.9 H1273 Z" fill="#f44336"/>
<text x="1283.3" y="338.04999999999995" font-size="11" font-weight="bold" fill="#ffffff" textLength="27.5" lengthAdjust="spacingAndGlyphs">30.21</text>
<path d="M1272,325.4 H1249 Q1247,325.4 1247,327.4 V339.9 Q1247,341.9 1249,341.9 H1272 Z" fill="#f44336"/>
<text x="1252.5" y="338.04999999999995" font-size="11" font-weight="bold" fill="#ffffff" textLength="14" lengthAdjust="spacingAndGlyphs">MA</text>
<path d="M1273,341.5 H1314 Q1316,341.5 1316,343.5 V356 Q1316,358 1314,358 H1273 Z" fill="#0000ff"/>
<text x="1283.3" y="354.15" font-size="11" font-weight="bold" fill="#ffffff" textLength="27.5" lengthAdjust="spacingAndGlyphs">28.60</text>
<path d="M1273,400.7 H1314 Q1316,400.7 1316,402.7 V414.8 Q1316,416.8 1314,416.8 H1273 Z" fill="#077a6b"/>
<text x="1283.3" y="413.15" font-size="11" font-weight="bold" fill="#ffffff" textLength="27.5" lengthAdjust="spacingAndGlyphs">23.40</text>
<path d="M1272,400.7 H1249 Q1247,400.7 1247,402.7 V414.8 Q1247,416.8 1249,416.8 H1272 Z" fill="#077a6b"/>
<text x="1252.5" y="413.15" font-size="11" font-weight="bold" fill="#ffffff" textLength="14" lengthAdjust="spacingAndGlyphs">MA</text>
<path d="M1273,574.2 H1314 Q1316,574.2 1316,576.2 V589.4 Q1316,591.4 1314,591.4 H1273 Z" fill="#0000ff"/>
<text x="1283.3" y="587.1999999999999" font-size="11" font-weight="bold" fill="#ffffff" textLength="27.5" lengthAdjust="spacingAndGlyphs">10.37</text>
<path d="M1273,702 H1314 Q1316,702 1316,704 V716.7 Q1316,718.7 1314,718.7 H1273 Z" fill="#7e57c2"/>
<text x="1283.3" y="714.75" font-size="11" font-weight="bold" fill="#ffffff" textLength="27.5" lengthAdjust="spacingAndGlyphs">54.50</text>
<path d="M1272,702 H1249 Q1247,702 1247,704 V716.7 Q1247,718.7 1249,718.7 H1272 Z" fill="#7e57c2"/>
<text x="1252.0" y="714.75" font-size="11" font-weight="bold" fill="#ffffff" textLength="15" lengthAdjust="spacingAndGlyphs">RSI</text>
<text x="135.5" y="823.4" font-size="11.5" fill="#4f5259" text-anchor="middle">17</text>
<text x="248.5" y="823.4" font-size="11.5" fill="#4f5259" text-anchor="middle">Jun</text>
<text x="347.5" y="823.4" font-size="11.5" fill="#4f5259" text-anchor="middle">14</text>
<text x="476.5" y="823.4" font-size="11.5" fill="#4f5259" text-anchor="middle">Jul</text>
<text x="559.5" y="823.4" font-size="11.5" fill="#4f5259" text-anchor="middle">12</text>
<text x="635.5" y="823.4" font-size="11.5" fill="#4f5259" text-anchor="middle">22</text>
<text x="710.5" y="823.4" font-size="11.5" fill="#4f5259" text-anchor="middle">Aug</text>
<text x="824.5" y="823.4" font-size="11.5" fill="#4f5259" text-anchor="middle">16</text>
<text x="945.5" y="823.4" font-size="11.5" fill="#4f5259" text-anchor="middle">Sep</text>
<text x="1036.5" y="823.4" font-size="11.5" fill="#4f5259" text-anchor="middle">13</text>
<text x="1172.5" y="823.4" font-size="11.5" fill="#4f5259" text-anchor="middle">Oct</text>
<text x="1248.5" y="823.4" font-size="11.5" fill="#4f5259" text-anchor="middle">11</text>
<clipPath id="cp3"><rect x="11" y="808" width="100" height="25"/></clipPath>
<text x="3.6" y="823.4" font-size="11.5" fill="#4f5259" textLength="20.2" lengthAdjust="spacingAndGlyphs" clip-path="url(#cp3)">May</text>
<text x="18.2" y="46.2" font-size="12" fill="#4a4d55" textLength="159" lengthAdjust="spacingAndGlyphs">DOT / TetherUS, 1D, BINANCE</text>
<text x="185.3" y="46.2" font-size="12" fill="#4a4d55" textLength="8" lengthAdjust="spacingAndGlyphs">O</text>
<text x="194" y="46.2" font-size="12" fill="#2f6b45" textLength="28" lengthAdjust="spacingAndGlyphs">31.39</text>
<text x="230.6" y="46.2" font-size="12" fill="#4a4d55" textLength="7.6" lengthAdjust="spacingAndGlyphs">H</text>
<text x="239" y="46.2" font-size="12" fill="#2f6b45" textLength="27.5" lengthAdjust="spacingAndGlyphs">32.85</text>
<text x="275.6" y="46.2" font-size="12" fill="#4a4d55" textLength="5.6" lengthAdjust="spacingAndGlyphs">L</text>
<text x="281.8" y="46.2" font-size="12" fill="#2f6b45" textLength="27.1" lengthAdjust="spacingAndGlyphs">29.11</text>
<text x="317.8" y="46.2" font-size="12" fill="#4a4d55" textLength="7.2" lengthAdjust="spacingAndGlyphs">C</text>
<text x="326" y="46.2" font-size="12" fill="#2f6b45" textLength="27.9" lengthAdjust="spacingAndGlyphs">32.30</text>
<text x="361.9" y="46.2" font-size="12" fill="#2f6b45" textLength="77.5" lengthAdjust="spacingAndGlyphs">+0.91 (+2.90%)</text>
<text x="18.2" y="62.9" font-size="12" fill="#4a4d55" textLength="89.3" lengthAdjust="spacingAndGlyphs">MA (50, close, 0)</text>
<text x="116" y="62.9" font-size="12" fill="#f44336" textLength="27.7" lengthAdjust="spacingAndGlyphs">30.21</text>
<text x="18.2" y="79.9" font-size="12" fill="#4a4d55" textLength="96.1" lengthAdjust="spacingAndGlyphs">EMA (20, close, 0)</text>
<text x="122" y="79.9" font-size="12" fill="#2446b3" textLength="29.6" lengthAdjust="spacingAndGlyphs">30.80</text>
<text x="18.2" y="96.7" font-size="12" fill="#4a4d55" textLength="96.1" lengthAdjust="spacingAndGlyphs">MA (100, close, 0)</text>
<text x="122" y="96.7" font-size="12" fill="#0a8a78" textLength="29.6" lengthAdjust="spacingAndGlyphs">23.40</text>
<text x="18.2" y="631.5" font-size="12" fill="#4a4d55" textLength="75.5" lengthAdjust="spacingAndGlyphs">RSI (14, close)</text>
<text x="102" y="631.5" font-size="12" fill="#7e57c2" textLength="29" lengthAdjust="spacingAndGlyphs">54.50</text>
<g fill="#131722"><path d="M10,846.2 H17.9 V855.9 H13.9 V850.1 H10 Z"/><circle cx="21.2" cy="848" r="1.85"/><path d="M24.6,846.2 H29.5 L25.6,855.9 H20.9 Z"/></g>
<text x="33.4" y="855.9" font-size="13" fill="#2a2e39" textLength="69.8" lengthAdjust="spacingAndGlyphs">TradingView</text>
</svg>
</body></html>
